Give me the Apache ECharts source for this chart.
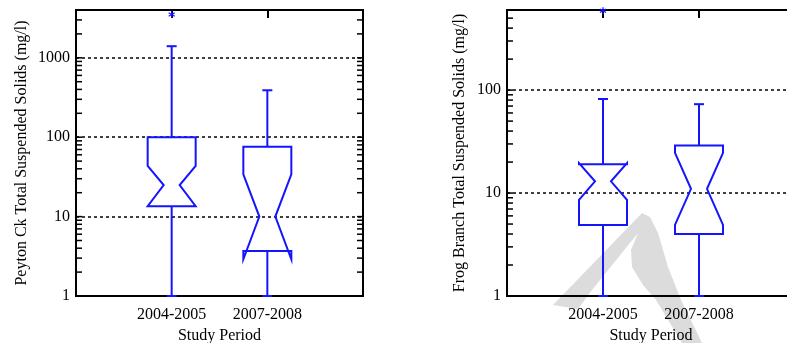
<!DOCTYPE html>
<html>
<head>
<meta charset="utf-8">
<title>Total Suspended Solids by Study Period</title>
<script src="https://cdn.jsdelivr.net/npm/echarts@6/dist/echarts.min.js"></script>
<style>
  html, body { margin: 0; padding: 0; background: #fff; }
  #chart { width: 787px; height: 343px; }
</style>
</head>
<body>
<div id="chart"></div>
<script>
// Study periods shown along the x axis
const periods = ['2004-2005', '2007-2008'];

// Peyton Ck total suspended solids (mg/l), one value per period
const peytonWhiskerLow = [1, 1];
const peytonQ1 = [13.5, 3.7];
const peytonNotchLow = [13.5, 2.9];
const peytonMedian = [25, 10];
const peytonNotchHigh = [43.5, 34];
const peytonQ3 = [100, 76];
const peytonWhiskerHigh = [1400, 390];
const peytonOutlierPeriods = ['2004-2005'];
const peytonOutlierValues = [3500];

// Frog Branch total suspended solids (mg/l), one value per period
const frogWhiskerLow = [1, 1];
const frogQ1 = [4.9, 4.0];
const frogNotchLow = [8.6, 4.9];
const frogMedian = [13, 11];
const frogNotchHigh = [19.5, 24.6];
const frogQ3 = [19, 29];
const frogWhiskerHigh = [82, 73];
const frogOutlierPeriods = ['2004-2005'];
const frogOutlierValues = [590];

// Labelled ticks and extent of each log axis
const peytonTickLabels = [1, 10, 100, 1000];
const frogTickLabels = [1, 10, 100];
const peytonAxisMax = 4000;
const frogAxisMax = 600;

const BLUE = '#1414ff';
const FONT = "'Liberation Serif', 'Times New Roman', serif";

function boxRows(lo, q1, nLo, med, nHi, q3, hi) {
  return periods.map((p, i) => [i + 1, lo[i], q1[i], nLo[i], med[i], nHi[i], q3[i], hi[i]]);
}
function outlierRows(ps, vs) {
  return ps.map((p, i) => [periods.indexOf(p) + 1, vs[i]]);
}
// Minor tick positions 2..9 in every decade below the axis maximum
function logTickValues(max) {
  const out = [];
  for (let d = 1; d < max; d *= 10) {
    for (let m = 1; m <= 9; m++) {
      const v = m * d;
      if (v > 1 && v < max) out.push([0, v]);
    }
  }
  return out;
}

// Notched box with whiskers, drawn through the axis scales
function renderBox(params, api) {
  const x = api.value(0);
  const y = (dim) => api.coord([x, api.value(dim)])[1];
  const cx = api.coord([x, api.value(1)])[0];
  const wLo = y(1), q1 = y(2), nLo = y(3), med = y(4), nHi = y(5), q3 = y(6), wHi = y(7);
  const hw = 24, nw = 8, cw = 5;
  const stroke = { stroke: BLUE, lineWidth: 2, fill: null };
  return {
    type: 'group',
    children: [
      { type: 'polygon', shape: { points: [
          [cx - hw, q3], [cx + hw, q3], [cx + hw, nHi], [cx + nw, med], [cx + hw, nLo],
          [cx + hw, q1], [cx - hw, q1], [cx - hw, nLo], [cx - nw, med], [cx - hw, nHi]
        ] }, style: stroke },
      { type: 'line', shape: { x1: cx, y1: q3, x2: cx, y2: wHi }, style: stroke },
      { type: 'line', shape: { x1: cx - cw, y1: wHi, x2: cx + cw, y2: wHi }, style: stroke },
      { type: 'line', shape: { x1: cx, y1: q1, x2: cx, y2: wLo }, style: stroke },
      { type: 'line', shape: { x1: cx - cw, y1: wLo, x2: cx + cw, y2: wLo }, style: stroke }
    ]
  };
}

// Asterisk marker for outlying samples
function renderStar(params, api) {
  const p = api.coord([api.value(0), api.value(1)]);
  const r = 3.5;
  const st = { stroke: BLUE, lineWidth: 1.2 };
  const arms = [];
  for (let k = 0; k < 3; k++) {
    const a = Math.PI / 2 + k * Math.PI / 3;
    arms.push({ type: 'line', shape: {
      x1: p[0] - r * Math.cos(a), y1: p[1] - r * Math.sin(a),
      x2: p[0] + r * Math.cos(a), y2: p[1] + r * Math.sin(a) }, style: st });
  }
  return { type: 'group', children: arms };
}

// Short inward ticks on the left and right frame edges
function renderTicks(params, api) {
  const v = api.value(1);
  const l = api.coord([0, v]);
  const r = api.coord([3, v]);
  const len = 6;
  const st = { stroke: '#000', lineWidth: 1.5 };
  return { type: 'group', children: [
    { type: 'line', shape: { x1: l[0], y1: l[1], x2: l[0] + len, y2: l[1] }, style: st },
    { type: 'line', shape: { x1: r[0], y1: r[1], x2: r[0] - len, y2: r[1] }, style: st }
  ] };
}

function labelFor(list) {
  return (v) => {
    const r = Math.round(v);
    const ok = Math.abs(v - r) < 1e-6 * Math.max(1, r) && list.indexOf(r) >= 0;
    return ok ? String(r) : '';
  };
}

function bottomAxis(gridIndex) {
  return {
    gridIndex, type: 'value', min: 0, max: 3, interval: 1, position: 'bottom',
    name: 'Study Period', nameLocation: 'middle', nameGap: 30,
    nameTextStyle: { fontFamily: FONT, fontSize: 16, color: '#000' },
    axisLine: { lineStyle: { color: '#000', width: 2 } },
    axisTick: { show: false },
    splitLine: { show: false },
    axisLabel: {
      fontFamily: FONT, fontSize: 16, color: '#000', margin: 11,
      formatter: (v) => periods[Math.round(v) - 1] || ''
    }
  };
}
function topAxis(gridIndex) {
  return {
    gridIndex, type: 'value', min: 0, max: 3, interval: 1, position: 'top',
    axisLine: { lineStyle: { color: '#000', width: 2 } },
    axisTick: { inside: true, length: 8, lineStyle: { color: '#000', width: 2 } },
    axisLabel: { show: false },
    splitLine: { show: false }
  };
}
function logAxis(gridIndex, max, title, gap, ticks) {
  return {
    gridIndex, type: 'log', logBase: 10, min: 1, max: max,
    name: title, nameLocation: 'middle', nameGap: gap, nameRotate: 90,
    nameTextStyle: { fontFamily: FONT, fontSize: 16, color: '#000' },
    axisLine: { lineStyle: { color: '#000', width: 2 } },
    axisTick: { show: false },
    splitLine: { show: true, lineStyle: { color: '#000', width: 1.5, type: [3, 3] } },
    axisLabel: { fontFamily: FONT, fontSize: 16, color: '#000', margin: 6, formatter: labelFor(ticks) }
  };
}

function panelGrid(left, width) {
  return {
    left, top: 10, width, height: 286,
    containLabel: false, outerBoundsMode: 'none',
    show: true, borderColor: '#000', borderWidth: 2, backgroundColor: 'transparent'
  };
}

const chart = echarts.init(document.getElementById('chart'), null, { renderer: 'canvas' });

chart.setOption({
  animation: false,
  backgroundColor: '#fff',
  textStyle: { fontFamily: FONT },
  grid: [panelGrid(76, 287), panelGrid(507, 288)],
  xAxis: [bottomAxis(0), topAxis(0), bottomAxis(1), topAxis(1)],
  yAxis: [
    logAxis(0, peytonAxisMax, 'Peyton Ck Total Suspended Solids (mg/l)', 46, peytonTickLabels),
    logAxis(1, frogAxisMax, 'Frog Branch Total Suspended Solids (mg/l)', 39, frogTickLabels)
  ],
  // pale grey page mark behind the right panel
  graphic: [{
    type: 'polygon', z: -10, silent: true,
    shape: { points: [
      [553, 305], [642, 213], [650, 217], [658, 233], [668, 267], [681, 300], [702, 343],
      [682, 343], [656, 300], [643, 285], [632, 267], [631, 250], [638, 233], [592, 290], [578, 309]
    ] },
    style: { fill: '#dcdcdc' }
  }],
  series: [
    { type: 'custom', xAxisIndex: 0, yAxisIndex: 0, z: 3, clip: false,
      data: logTickValues(peytonAxisMax), renderItem: renderTicks },
    { type: 'custom', xAxisIndex: 2, yAxisIndex: 1, z: 3, clip: false,
      data: logTickValues(frogAxisMax), renderItem: renderTicks },
    { type: 'custom', name: 'Peyton Ck', xAxisIndex: 0, yAxisIndex: 0, z: 4, clip: false,
      data: boxRows(peytonWhiskerLow, peytonQ1, peytonNotchLow, peytonMedian, peytonNotchHigh, peytonQ3, peytonWhiskerHigh),
      encode: { x: 0, y: [1, 2, 3, 4, 5, 6, 7] }, renderItem: renderBox },
    { type: 'custom', name: 'Frog Branch', xAxisIndex: 2, yAxisIndex: 1, z: 4, clip: false,
      data: boxRows(frogWhiskerLow, frogQ1, frogNotchLow, frogMedian, frogNotchHigh, frogQ3, frogWhiskerHigh),
      encode: { x: 0, y: [1, 2, 3, 4, 5, 6, 7] }, renderItem: renderBox },
    { type: 'custom', xAxisIndex: 0, yAxisIndex: 0, z: 5, clip: false,
      data: outlierRows(peytonOutlierPeriods, peytonOutlierValues),
      encode: { x: 0, y: 1 }, renderItem: renderStar },
    { type: 'custom', xAxisIndex: 2, yAxisIndex: 1, z: 5, clip: false,
      data: outlierRows(frogOutlierPeriods, frogOutlierValues),
      encode: { x: 0, y: 1 }, renderItem: renderStar }
  ]
});
</script>
</body>
</html>
